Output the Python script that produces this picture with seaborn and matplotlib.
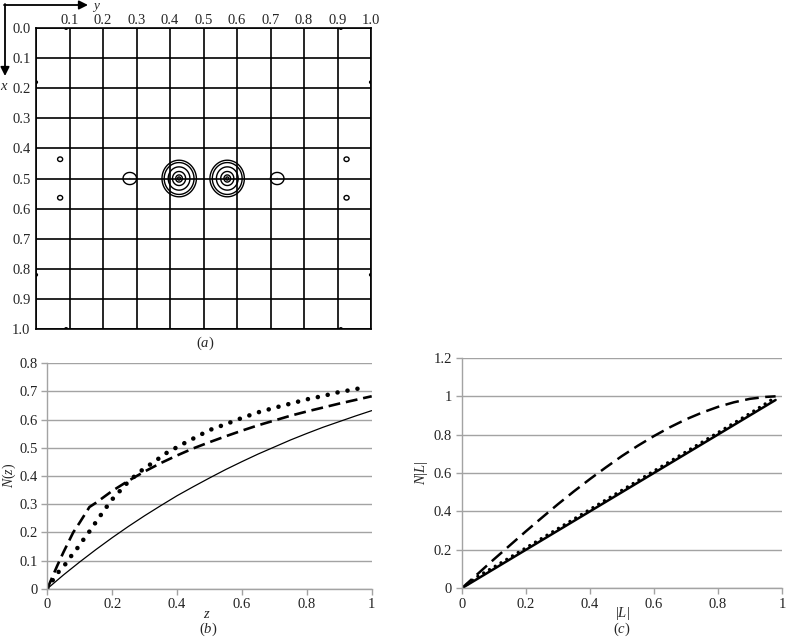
import numpy as np
import pandas as pd
import matplotlib
matplotlib.use("Agg")
import matplotlib.pyplot as plt
from matplotlib.ticker import FuncFormatter
import seaborn as sns

# ---------------- panel (a): Patterson-like contour map ----------------
grid_ticks = [0.0, 0.1, 0.2, 0.3, 0.4, 0.5, 0.6, 0.7, 0.8, 0.9, 1.0]
top_labels = ["", "0.1", "0.2", "0.3", "0.4", "0.5", "0.6", "0.7", "0.8", "0.9", "1.0"]
left_labels = ["0.0", "0.1", "0.2", "0.3", "0.4", "0.5", "0.6", "0.7", "0.8", "0.9", "1.0"]

# peak positions (y = horizontal, x = vertical), heights and widths
peak_y = [0.427, 0.571, 0.280, 0.720, 0.072, 0.072, 0.927, 0.927,
          0.090, 0.910, 0.090, 0.910, 0.000, 0.000, 1.000, 1.000]
peak_x = [0.500, 0.500, 0.500, 0.500, 0.436, 0.564, 0.436, 0.564,
          0.000, 0.000, 1.000, 1.000, 0.180, 0.820, 0.180, 0.820]
peak_h = [1.00, 1.00, 0.36, 0.36, 0.33, 0.33, 0.33, 0.33,
          0.30, 0.30, 0.30, 0.30, 0.30, 0.30, 0.30, 0.30]
peak_sy = [0.031, 0.031, 0.025, 0.025, 0.011, 0.011, 0.011, 0.011,
           0.008, 0.008, 0.008, 0.008, 0.008, 0.008, 0.008, 0.008]
peak_sx = [0.037, 0.037, 0.025, 0.025, 0.011, 0.011, 0.011, 0.011,
           0.008, 0.008, 0.008, 0.008, 0.008, 0.008, 0.008, 0.008]
contour_levels = [0.26, 0.36, 0.58, 0.82, 0.95, 0.99]

# ---------------- panel (b): cumulative intensity distribution ----------------
z_acentric = [0, 0.05, 0.1, 0.15, 0.2, 0.25, 0.3, 0.35, 0.4, 0.45, 0.5,
              0.55, 0.6, 0.65, 0.7, 0.75, 0.8, 0.85, 0.9, 0.95, 1.0]
n_acentric = [0, 0.049, 0.095, 0.139, 0.181, 0.221, 0.259, 0.295, 0.330, 0.362, 0.393,
              0.423, 0.451, 0.478, 0.503, 0.528, 0.551, 0.573, 0.593, 0.613, 0.632]
z_centric = [0, 0.03, 0.05, 0.08, 0.1, 0.13, 0.15, 0.2, 0.25, 0.3, 0.35, 0.4, 0.45, 0.5,
             0.55, 0.6, 0.65, 0.7, 0.75, 0.8, 0.85, 0.9, 0.95, 1.0]
n_centric = [0, 0.08, 0.13, 0.20, 0.235, 0.29, 0.305, 0.347, 0.383, 0.416, 0.446, 0.473, 0.498, 0.520,
             0.541, 0.561, 0.580, 0.597, 0.614, 0.629, 0.643, 0.657, 0.670, 0.683]
z_obs = [0, 0.01, 0.02, 0.035, 0.055, 0.073, 0.092, 0.11, 0.128, 0.146, 0.164, 0.182,
         0.2, 0.22, 0.24, 0.26, 0.28, 0.3, 0.32, 0.34, 0.36, 0.39, 0.42, 0.45, 0.5,
         0.55, 0.6, 0.65, 0.7, 0.75, 0.8, 0.85, 0.9, 0.95, 0.975]
n_obs = [0, 0.02, 0.035, 0.06, 0.086, 0.115, 0.143, 0.172, 0.2, 0.23, 0.26, 0.289,
         0.317, 0.342, 0.368, 0.39, 0.41, 0.428, 0.443, 0.459, 0.477, 0.496, 0.515, 0.533, 0.563,
         0.584, 0.606, 0.626, 0.642, 0.657, 0.672, 0.684, 0.698, 0.708, 0.715]
b_xticks = [0, 0.2, 0.4, 0.6, 0.8, 1.0]
b_yticks = [0, 0.1, 0.2, 0.3, 0.4, 0.5, 0.6, 0.7, 0.8]

# ---------------- panel (c): L test ----------------
L_vals = [0, 0.05, 0.1, 0.15, 0.2, 0.25, 0.3, 0.35, 0.4, 0.45, 0.5,
          0.55, 0.6, 0.65, 0.7, 0.75, 0.8, 0.85, 0.9, 0.95, 0.98]
n_untwinned = [0, 0.05, 0.1, 0.15, 0.2, 0.25, 0.3, 0.35, 0.4, 0.45, 0.5,
               0.55, 0.6, 0.65, 0.7, 0.75, 0.8, 0.85, 0.9, 0.95, 0.98]
n_twinned = [0, 0.075, 0.150, 0.223, 0.296, 0.367, 0.437, 0.504, 0.568, 0.629, 0.688,
             0.742, 0.792, 0.838, 0.879, 0.914, 0.944, 0.968, 0.986, 0.996, 0.999]
n_L_obs = [0, 0.062, 0.110, 0.160, 0.210, 0.260, 0.310, 0.360, 0.410, 0.460, 0.510,
           0.560, 0.610, 0.660, 0.710, 0.760, 0.810, 0.860, 0.910, 0.962, 0.995]
c_xticks = [0, 0.2, 0.4, 0.6, 0.8, 1.0]
c_yticks = [0, 0.2, 0.4, 0.6, 0.8, 1.0, 1.2]

# ---------------- styling ----------------
sns.set_theme(style="white")
plt.rcParams["font.family"] = ["Liberation Serif", "DejaVu Serif"]
plt.rcParams["mathtext.fontset"] = "custom"
plt.rcParams["mathtext.rm"] = "Liberation Serif"
plt.rcParams["mathtext.it"] = "Liberation Serif:italic"
plt.rcParams["font.size"] = 10.5

W, H = 787, 638
fig = plt.figure(figsize=(W / 100, H / 100), dpi=100)
fig.patch.set_facecolor("white")


def px_axes(left, top, right, bottom):
    return fig.add_axes([left / W, 1 - bottom / H, (right - left) / W, (bottom - top) / H])


GRAY = "#a3a3a3"
fmt_g = FuncFormatter(lambda v, p: f"{v:g}")

# ---- (a) ----
ax_a = px_axes(36, 28, 371, 329)
ys = np.linspace(0, 1, 801)
xs = np.linspace(0, 1, 801)
YY, XX = np.meshgrid(ys, xs)
field = np.zeros_like(YY)
for py, pxx, h, sy, sx in zip(peak_y, peak_x, peak_h, peak_sy, peak_sx):
    field += h * np.exp(-((YY - py) ** 2 / (2 * sy ** 2) + (XX - pxx) ** 2 / (2 * sx ** 2)))
ax_a.contour(YY, XX, field, levels=contour_levels, colors="black", linewidths=1.0)
ax_a.set_xlim(0, 1)
ax_a.set_ylim(1, 0)
ax_a.set_xticks(grid_ticks)
ax_a.set_xticklabels(top_labels)
ax_a.xaxis.tick_top()
ax_a.set_yticks(grid_ticks)
ax_a.set_yticklabels(left_labels)
ax_a.tick_params(axis="x", length=0, pad=0.5, labelsize=10.5)
ax_a.tick_params(axis="y", length=0, pad=4, labelsize=10.5)
ax_a.grid(True, color="black", lw=1.2)
for s in ax_a.spines.values():
    s.set_color("black")
    s.set_linewidth(1.2)

fig.text(205 / W, 1 - 343 / H, r"$(a)$", ha="center", va="center", fontsize=10.5)

# axis arrows
arrow_kw = dict(arrowstyle="-|>", color="black", lw=1.3, mutation_scale=13, shrinkA=0, shrinkB=0)
ax_a.annotate("", xy=(88, H - 5), xytext=(4, H - 5), xycoords="figure pixels",
              textcoords="figure pixels", arrowprops=arrow_kw, annotation_clip=False)
ax_a.annotate("", xy=(5, H - 76), xytext=(5, H - 4), xycoords="figure pixels",
              textcoords="figure pixels", arrowprops=arrow_kw, annotation_clip=False)
fig.text(96 / W, 1 - 0.5 / H, r"$y$", ha="center", va="top", fontsize=9.5)
fig.text(4 / W, 1 - 87 / H, r"$x$", ha="center", va="center", fontsize=10.5)


def style_line_axes(ax, xticks, yticks, ymax):
    ax.set_xlim(0, 1)
    ax.set_ylim(0, ymax)
    ax.set_xticks(xticks)
    ax.set_yticks(yticks)
    ax.xaxis.set_major_formatter(fmt_g)
    ax.yaxis.set_major_formatter(fmt_g)
    ax.grid(True, axis="y", color=GRAY, lw=1.0)
    ax.grid(False, axis="x")
    ax.set_axisbelow(True)
    for side in ["top", "right"]:
        ax.spines[side].set_visible(False)
    for side in ["left", "bottom"]:
        ax.spines[side].set_color(GRAY)
        ax.spines[side].set_linewidth(1.0)
    ax.tick_params(axis="both", direction="out", length=4, width=1.0, color=GRAY,
                   labelsize=10.5, labelcolor="#222222", pad=3, bottom=True, left=True)


# ---- (b) ----
ax_b = px_axes(47.3, 363.3, 371.7, 588.7)
df_ac = pd.DataFrame({"z": z_acentric, "N": n_acentric})
df_ce = pd.DataFrame({"z": z_centric, "N": n_centric})
df_ob = pd.DataFrame({"z": z_obs, "N": n_obs})
sns.lineplot(data=df_ac, x="z", y="N", ax=ax_b, color="black", lw=0.9, errorbar=None)
sns.lineplot(data=df_ce, x="z", y="N", ax=ax_b, color="black", lw=1.9, errorbar=None,
             linestyle=(0, (4.5, 2.2)))
sns.lineplot(data=df_ob, x="z", y="N", ax=ax_b, color="black", lw=3.3, errorbar=None,
             linestyle=(0, (0.01, 2.2)), dash_capstyle="round")
style_line_axes(ax_b, b_xticks, b_yticks, 0.8)
ax_b.set_xlabel("")
ax_b.set_ylabel("")
fig.text(9 / W, 1 - 475 / H, r"$N(z)$", rotation=90, ha="center", va="center", fontsize=10)
fig.text(207 / W, 1 - 614 / H, r"$z$", ha="center", va="center", fontsize=10.5)
fig.text(208 / W, 1 - 629 / H, r"$(b)$", ha="center", va="center", fontsize=10.5)

# ---- (c) ----
ax_c = px_axes(461.7, 357.7, 782, 588.3)
df_un = pd.DataFrame({"L": L_vals, "N": n_untwinned})
df_tw = pd.DataFrame({"L": L_vals, "N": n_twinned})
df_lo = pd.DataFrame({"L": L_vals, "N": n_L_obs})
sns.lineplot(data=df_un, x="L", y="N", ax=ax_c, color="black", lw=1.8, errorbar=None)
sns.lineplot(data=df_tw, x="L", y="N", ax=ax_c, color="black", lw=1.8, errorbar=None,
             linestyle=(0, (5.5, 2.6)))
sns.lineplot(data=df_lo, x="L", y="N", ax=ax_c, color="black", lw=2.4, errorbar=None,
             linestyle=(0, (0.01, 2.0)), dash_capstyle="round")
style_line_axes(ax_c, c_xticks, c_yticks, 1.2)
ax_c.set_xlabel("")
ax_c.set_ylabel("")
fig.text(422 / W, 1 - 473 / H, r"$N|L|$", rotation=90, ha="center", va="center", fontsize=10.5)
fig.text(622 / W, 1 - 613 / H, r"$|L|$", ha="center", va="center", fontsize=10.5)
fig.text(622 / W, 1 - 629 / H, r"$(c)$", ha="center", va="center", fontsize=10.5)

fig.savefig("out.png", dpi=100, facecolor="white")
